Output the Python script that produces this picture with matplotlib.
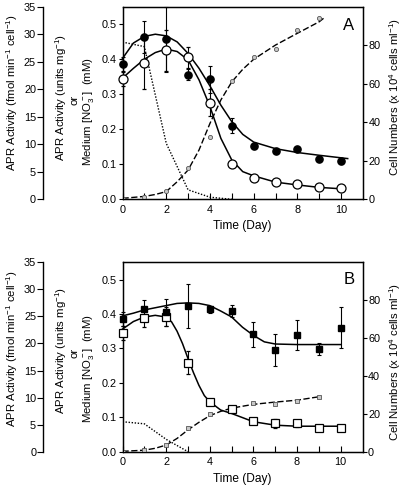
import numpy as np
import matplotlib
matplotlib.use('Agg')
import matplotlib.pyplot as plt

plt.rcParams['font.family'] = 'Liberation Sans'
plt.rcParams['mathtext.fontset'] = 'custom'
plt.rcParams['mathtext.rm'] = 'Liberation Sans'
plt.rcParams['mathtext.it'] = 'Liberation Sans:italic'

# ── Data ────────────────────────────────────────────────────────────────────
days = [0, 1, 2, 3, 4, 5, 6, 7, 8, 9, 10]
cell_days = [0, 1, 2, 3, 4, 5, 6, 7, 8, 9]

# Panel A
A_filled = [24.6, 29.5, 29.1, 22.6, 21.8, 13.4, 9.7, 8.8, 9.1, 7.4, 7.0]        # fmol/min/cell
A_filled_err = [1.3, 2.9, 5.9, 1.0, 2.5, 1.3, 0.6, 0.3, 0.3, 0.4, 0.5]
A_open = [0.344, 0.390, 0.425, 0.405, 0.276, 0.100, 0.060, 0.050, 0.044, 0.034, 0.031]  # units/mg
A_open_err = [0.02, 0.076, 0.058, 0.031, 0.038, 0.008, 0.005, 0.004, 0.004, 0.004, 0.004]
A_cells = [0.2, 1.4, 4.5, 16.1, 32.5, 61.4, 73.7, 78.0, 87.9, 94.0]              # x10^4 cells/ml
A_no3_days = [0, 1, 2, 3, 4, 5]
A_no3 = [0.449, 0.436, 0.160, 0.027, 0.006, 0.0]                                  # mM

A_fit_filled_days = [0, 0.5, 1, 1.5, 2, 2.5, 3, 3.5, 4, 4.5, 5, 5.5, 6, 7, 8, 9, 10.3]
A_fit_filled = [25.6, 28.4, 29.6, 30.0, 29.7, 28.6, 26.5, 23.8, 20.6, 17.1, 14.1, 11.8,
                10.4, 9.2, 8.5, 8.0, 7.4]
A_fit_open_days = [0, 0.5, 1, 1.5, 2, 2.5, 3, 3.5, 4, 4.5, 5, 5.5, 6, 7, 8, 9, 10]
A_fit_open = [0.346, 0.374, 0.400, 0.419, 0.429, 0.422, 0.398, 0.341, 0.265, 0.174, 0.112,
              0.079, 0.067, 0.049, 0.041, 0.034, 0.030]
A_fit_cells_days = [0, 1, 1.5, 2, 2.5, 3, 3.5, 4, 4.5, 5, 5.5, 6, 7, 8, 9, 9.2]
A_fit_cells = [0.5, 1.5, 2.5, 4.0, 9.1, 15.2, 25.6, 39.4, 51.6, 61.0, 67.5, 72.7, 80.1,
               86.2, 92.2, 94.0]

# Panel B
B_filled = [24.5, 26.3, 25.8, 26.9, 26.3, 26.0, 21.7, 18.8, 21.6, 19.0, 22.9]
B_filled_err = [1.3, 1.8, 2.5, 4.0, 0.7, 1.1, 2.3, 2.9, 2.8, 1.1, 3.8]
B_open = [0.345, 0.389, 0.392, 0.259, 0.145, 0.123, 0.090, 0.082, 0.082, 0.068, 0.070]
B_open_err = [0.02, 0.028, 0.027, 0.032, 0.005, 0.005, 0.005, 0.012, 0.010, 0.004, 0.006]
B_cells = [0.0, 0.7, 3.5, 12.5, 19.7, 22.5, 25.5, 25.4, 26.9, 29.0]
B_no3_days = [0, 1, 2, 3]
B_no3 = [0.087, 0.081, 0.036, 0.0]

B_fit_filled_days = [0, 0.5, 1, 1.5, 2, 2.5, 3, 3.5, 4, 4.5, 5, 5.5, 6, 6.5, 7, 8, 9, 10]
B_fit_filled = [25.1, 25.6, 26.2, 26.6, 27.0, 27.4, 27.5, 27.4, 27.0, 26.0, 24.9, 23.0,
                21.5, 20.3, 19.9, 19.8, 19.8, 19.8]
B_fit_open_days = [0, 0.5, 1, 1.5, 2, 2.25, 2.5, 2.75, 3, 3.25, 3.5, 3.75, 4, 4.5, 5, 5.5,
                   6, 7, 8, 9, 10]
B_fit_open = [0.356, 0.378, 0.391, 0.396, 0.391, 0.377, 0.350, 0.314, 0.271, 0.230, 0.193,
              0.163, 0.145, 0.121, 0.111, 0.099, 0.087, 0.077, 0.074, 0.074, 0.074]
B_fit_cells_days = [0, 1, 1.5, 2, 2.5, 3, 3.5, 4, 4.5, 5, 5.5, 6, 7, 8, 9]
B_fit_cells = [0.2, 0.8, 1.8, 3.5, 7.0, 11.5, 15.5, 19.0, 21.3, 23.0, 24.0, 25.0, 26.2,
               27.2, 29.0]

W, H = 404, 491
fig = plt.figure(figsize=(W / 100, H / 100), dpi=100)

TICK_FS = 7.8
LAB_FS = 8.2
K = 35 / 0.55   # inner-axis units -> far-left axis units


def panel(rect, filled, filled_err, open_, open_err, cells, no3_days, no3,
          ff_d, ff, fo_d, fo, fc_d, fc, marker, fms, oms, cell_marker):
    ax = fig.add_axes(rect)
    ax_r = ax.twinx()
    ax_f = ax.twinx()

    # inner left axis: APR (units/mg) or NO3 (mM)
    ax.set_xlim(0, 11)
    ax.set_ylim(0, 0.55)
    ax.set_yticks([0, 0.1, 0.2, 0.3, 0.4, 0.5])
    ax.set_yticklabels(['0.0', '0.1', '0.2', '0.3', '0.4', '0.5'])
    ax.set_xticks([0, 2, 4, 6, 8, 10])
    ax.set_xticks([1, 3, 5, 7, 9], minor=True)
    ax.tick_params(axis='x', which='both', direction='in', length=4, width=0.8,
                   labelsize=TICK_FS, pad=4)
    ax.tick_params(axis='y', direction='out', length=3, width=0.8, labelsize=TICK_FS, pad=1)
    ax.set_xlabel('Time (Day)', fontsize=LAB_FS + 0.4, labelpad=4)
    for s in ax.spines.values():
        s.set_linewidth(1.0)

    # right axis: cell numbers
    ax_r.set_ylim(0, 100)
    ax_r.set_yticks([0, 20, 40, 60, 80])
    ax_r.tick_params(axis='y', direction='out', length=3, width=0.8, labelsize=TICK_FS, pad=1)

    # far left axis: APR (fmol/min/cell)
    ax_f.set_ylim(0, 35)
    ax_f.set_yticks([0, 5, 10, 15, 20, 25, 30, 35])
    ax_f.yaxis.set_ticks_position('left')
    ax_f.spines['left'].set_position(('axes', -0.3306))
    ax_f.spines['left'].set_visible(True)
    ax_f.spines['left'].set_linewidth(1.0)
    for k in ('right', 'top', 'bottom'):
        ax_f.spines[k].set_visible(False)
    ax_f.patch.set_visible(False)
    ax_f.tick_params(axis='y', direction='out', length=4, width=0.8, labelsize=TICK_FS, pad=1)

    # curves
    ax.plot(no3_days, no3, color='black', lw=1.0, dashes=(1.0, 1.2))
    ax_r.plot(fc_d, fc, color='black', lw=1.0, dashes=(4.5, 1.8))
    ax_f.plot(ff_d, ff, color='black', lw=1.1)
    ax_f.plot(fo_d, np.array(fo) * K, color='black', lw=1.1)

    # points
    ax_r.plot(cell_days, cells, linestyle='none', marker=cell_marker, ms=3,
              mfc='#c8c8c8', mec='#555555', mew=0.6)
    ax_f.errorbar(days, np.array(open_) * K, yerr=np.array(open_err) * K,
                  fmt=marker, ms=oms, mfc='white', mec='black', mew=0.9,
                  ecolor='black', elinewidth=0.8, capsize=1.5, capthick=0.8)
    ax_f.errorbar(days, filled, yerr=filled_err, fmt=marker, ms=fms, mfc='black',
                  mec='black', ecolor='black', elinewidth=0.8, capsize=1.5, capthick=0.8)
    for ln in ax_f.lines:
        ln.set_clip_on(False)
    return ax


def px_rect(left, top, right, bottom):
    return [left / W, 1 - bottom / H, (right - left) / W, (bottom - top) / H]


axA = panel(px_rect(122.5, 6.7, 363, 199.3), A_filled, A_filled_err, A_open, A_open_err,
            A_cells, A_no3_days, A_no3, A_fit_filled_days, A_fit_filled,
            A_fit_open_days, A_fit_open, A_fit_cells_days, A_fit_cells,
            'o', 5.2, 6.5, 'o')
axB = panel(px_rect(122.5, 262.3, 362.5, 451.7), B_filled, B_filled_err, B_open,
            B_open_err, B_cells, B_no3_days, B_no3, B_fit_filled_days, B_fit_filled,
            B_fit_open_days, B_fit_open, B_fit_cells_days, B_fit_cells,
            's', 4.5, 5.2, 's')

# ── Labels ──────────────────────────────────────────────────────────────────
lab1 = r'APR Activity (fmol min$\mathregular{^{-1}}$ cell$\mathregular{^{-1}}$)'
lab2 = r'APR Activity (units mg$\mathregular{^{-1}}$)'
lab3 = r'Medium [NO$\mathregular{_3^-}$]  (mM)'
lab4 = r'Cell Numbers (x 10$\mathregular{^4}$ cells ml$\mathregular{^{-1}}$)'

for yc, y1, y2, y3, y4, letter, yl in [(93, 97, 100, 112, 97, 'A', 25),
                                        (348.5, 350, 353, 368.5, 362, 'B', 280)]:
    fig.text(12 / W, 1 - yc / H, lab1, rotation=90, ha='center', va='center', fontsize=LAB_FS)
    fig.text(61.5 / W, 1 - y1 / H, lab2, rotation=90, ha='center', va='center', fontsize=LAB_FS)
    fig.text(75 / W, 1 - y2 / H, 'or', rotation=90, ha='center', va='center', fontsize=LAB_FS)
    fig.text(88.5 / W, 1 - y3 / H, lab3, rotation=90, ha='center', va='center', fontsize=LAB_FS)
    fig.text(395 / W, 1 - y4 / H, lab4, rotation=90, ha='center', va='center', fontsize=LAB_FS)
    fig.text(349 / W, 1 - yl / H, letter, ha='center', va='center', fontsize=12)

fig.savefig('out.png', dpi=100)
